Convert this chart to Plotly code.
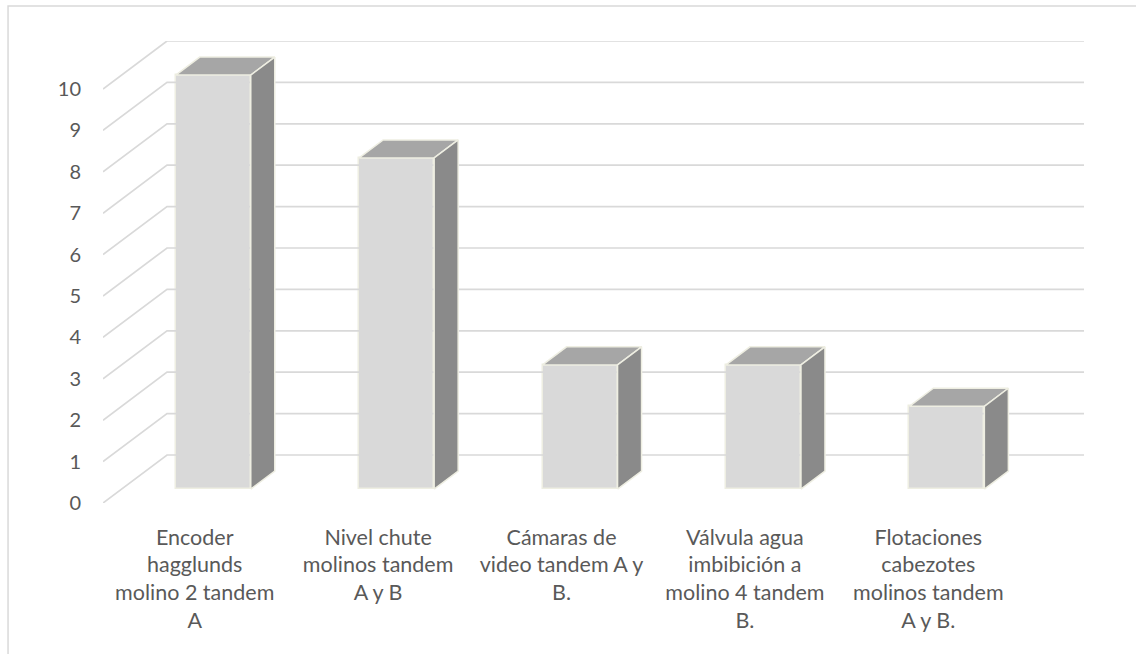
import plotly.graph_objects as go

categories = [
    "Encoder<br>hagglunds<br>molino 2 tandem<br>A",
    "Nivel chute<br>molinos tandem<br>A y B",
    "Cámaras de<br>video tandem A y<br>B.",
    "Válvula agua<br>imbibición a<br>molino 4 tandem<br>B.",
    "Flotaciones<br>cabezotes<br>molinos tandem<br>A y B.",
]
values = [10, 8, 3, 3, 2]
y_ticks = [0, 1, 2, 3, 4, 5, 6, 7, 8, 9, 10]

# oblique 3D projection parameters (in data units)
DX = 0.349   # x shift for full depth
DY = 1.16    # y shift for full depth
D1 = 0.29    # bar front depth fraction
D2 = 0.665   # bar back depth fraction
HW = 0.2045  # half bar width

GRID = "#d9d9d9"
FRONT = "#d9d9d9"
TOP = "#a6a6a6"
SIDE = "#8a8a8a"
EDGE = "#eeeee2"
TXT = "#595959"

n = len(categories)
xs = list(range(n))
x_left = -0.5
x_right = n - 0.5

fig = go.Figure()

# back wall gridlines + left wall slanted lines
for v in y_ticks:
    fig.add_trace(go.Scatter(
        x=[x_left, x_left + DX, x_right + DX],
        y=[v, v + DY, v + DY],
        mode="lines", line=dict(color=GRID, width=1.7),
        hoverinfo="skip", showlegend=False))

# bars: front faces
off_x = D1 * DX
off_y = D1 * DY
dd = D2 - D1
fig.add_trace(go.Bar(
    x=[x + off_x for x in xs], y=values, base=off_y, width=2 * HW,
    marker=dict(color=FRONT, line=dict(color=EDGE, width=1.5)),
    showlegend=False, hoverinfo="skip"))

for x, v in zip(xs, values):
    xl = x + off_x - HW
    xr = x + off_x + HW
    yt = v + off_y
    yb = off_y
    # top face
    fig.add_trace(go.Scatter(
        x=[xl, xr, xr + dd * DX, xl + dd * DX, xl],
        y=[yt, yt, yt + dd * DY, yt + dd * DY, yt],
        fill="toself", fillcolor=TOP, mode="lines",
        line=dict(color=EDGE, width=1.5), hoverinfo="skip", showlegend=False))
    # side face
    fig.add_trace(go.Scatter(
        x=[xr, xr + dd * DX, xr + dd * DX, xr, xr],
        y=[yb, yb + dd * DY, yt + dd * DY, yt, yb],
        fill="toself", fillcolor=SIDE, mode="lines",
        line=dict(color=EDGE, width=1.5), hoverinfo="skip", showlegend=False))

fig.update_layout(
    width=1136, height=654,
    margin=dict(l=103, r=52, t=41, b=151),
    paper_bgcolor="white", plot_bgcolor="white",
    font=dict(family="Lato, Calibri, sans-serif", size=20, color=TXT),
    bargap=0,
    xaxis=dict(
        range=[x_left, x_right + DX], tickmode="array", tickvals=xs,
        ticktext=categories, showgrid=False, zeroline=False, showline=False,
        ticks="", ticklabelstandoff=19, tickangle=0,
        tickfont=dict(size=21.5, color=TXT)),
    yaxis=dict(
        range=[0, 10 + DY], tickmode="array", tickvals=y_ticks,
        ticktext=[str(t) for t in y_ticks], showgrid=False, zeroline=False,
        showline=False, ticks="", ticklabelstandoff=21,
        tickfont=dict(size=20, color=TXT)),
    shapes=[dict(type="rect", xref="paper", yref="paper",
                 x0=-0.0968, x1=1.2, y0=-0.5, y1=1.0758,
                 line=dict(color=GRID, width=1.5), layer="below")],
)

fig.write_html("out.html")
